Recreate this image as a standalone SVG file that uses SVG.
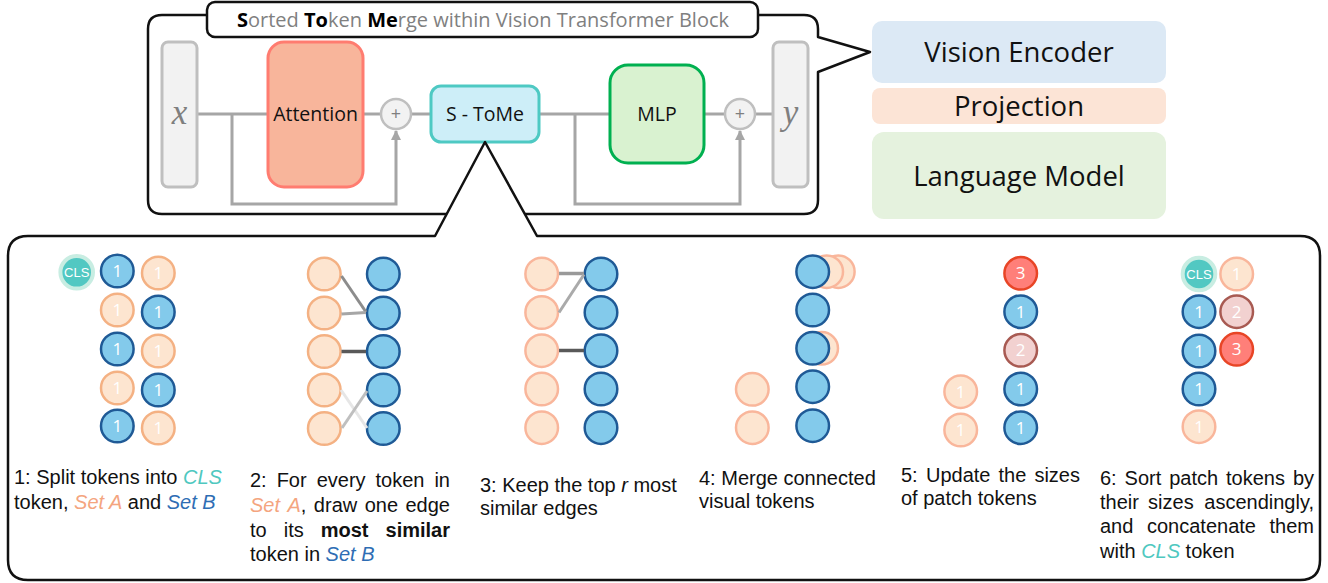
<svg xmlns="http://www.w3.org/2000/svg" width="1328" height="583" viewBox="0 0 1328 583">
<defs>
<marker id="arr" markerWidth="10" markerHeight="10" refX="9" refY="5" orient="auto" markerUnits="userSpaceOnUse"><path d="M0,0 L10,5 L0,10 z" fill="#a6a6a6"/></marker>
<style>
.outline{fill:#fff;stroke:#111;stroke-width:2.5;stroke-linejoin:round}
.wire{fill:none;stroke:#a6a6a6;stroke-width:3}
.io{fill:#f2f2f2;stroke:#bfbfbf;stroke-width:3}
.add{fill:#f2f2f2;stroke:#bfbfbf;stroke-width:2.5}
.math{font-family:"Liberation Serif","DejaVu Serif",serif;font-style:italic;font-size:35px;fill:#7f7f7f;text-anchor:middle}
.lbl{font-family:"Open Sans","Noto Sans",sans-serif;font-size:19.5px;fill:#111;text-anchor:middle}
.big{font-family:"Open Sans","Noto Sans",sans-serif;font-size:27.5px;fill:#111;text-anchor:middle}
.plus{font-family:"Open Sans","Noto Sans",sans-serif;font-size:18px;fill:#7f7f7f;text-anchor:middle}
.title{font-family:"Open Sans","Noto Sans",sans-serif;font-size:20px;fill:#808080;text-anchor:middle}
.bk{fill:#000;font-weight:bold}
.b{fill:#83caeb;stroke:#1f5a96;stroke-width:2.5}
.o{fill:#fde5d0;stroke:#f4b183;stroke-width:2.5}
.o2{fill:#fde5d0;stroke:#f9b69b;stroke-width:2.5}
.r{fill:#ff7f79;stroke:#e84526;stroke-width:2.5}
.p{fill:#f2d1d0;stroke:#a85a52;stroke-width:2.5}
.cls{fill:#52c8c2;stroke:#c8ede2;stroke-width:4}
.num{font-family:"Open Sans","Noto Sans",sans-serif;font-size:17px;fill:#fff;text-anchor:middle}
.clst{font-family:"Liberation Sans",Arial,sans-serif;font-size:13px;fill:#fff;text-anchor:middle}
.txt{font-family:"Liberation Sans",Arial,sans-serif;font-size:20px;fill:#111}
.end{text-anchor:end}
.cA{fill:#f4a57f;font-style:italic}
.cB{fill:#2e6db4;font-style:italic}
.cC{fill:#4fc8c0;font-style:italic}
.bo{font-weight:bold}
.it{font-style:italic}
</style>
</defs>
<rect width="1328" height="583" fill="#fff"/>

<g id="top-block">
<path class="outline" d="M162 15 H804 Q818 15 818 29 V37 L870 52 L818 72 V200 Q818 214 804 214 H162 Q148 214 148 200 V29 Q148 15 162 15 Z"/>
<rect class="outline" x="207" y="2" width="551" height="35" rx="8"/>
<text class="title" x="483" y="27"><tspan class="bk">S</tspan>orted <tspan class="bk">To</tspan>ken <tspan class="bk">Me</tspan>rge within Vision Transformer Block</text>
</g>

<g id="connectors">
<line class="wire" x1="197" y1="114" x2="268" y2="114"/>
<line class="wire" x1="363" y1="114" x2="381" y2="114"/>
<line class="wire" x1="411" y1="114" x2="431" y2="114"/>
<line class="wire" x1="539" y1="114" x2="610" y2="114"/>
<line class="wire" x1="704" y1="114" x2="725" y2="114"/>
<line class="wire" x1="755" y1="114" x2="773" y2="114"/>
<polyline class="wire" points="232,114 232,204 396,204 396,131" marker-end="url(#arr)"/>
<polyline class="wire" points="575,114 575,204 740,204 740,131" marker-end="url(#arr)"/>
</g>

<g id="input-x">
<rect class="io" x="162" y="42" width="35" height="145" rx="6"/>
<text class="math" x="179.5" y="124">x</text>
</g>
<g id="attention">
<rect x="268" y="42" width="95" height="145" rx="16" fill="#f8b59b" stroke="#ff7c70" stroke-width="3"/>
<text class="lbl" x="315.5" y="121">Attention</text>
</g>
<g id="add-1">
<circle class="add" cx="396" cy="114" r="15"/>
<text class="plus" x="396" y="120">+</text>
</g>
<g id="s-tome">
<rect x="431" y="86" width="108" height="56" rx="10" fill="#cdeef8" stroke="#4ec9c3" stroke-width="3"/>
<text class="lbl" x="485" y="121">S - ToMe</text>
</g>
<g id="mlp">
<rect x="610" y="65" width="94" height="98" rx="18" fill="#d9f2d0" stroke="#00b050" stroke-width="3"/>
<text class="lbl" x="657" y="121">MLP</text>
</g>
<g id="add-2">
<circle class="add" cx="740" cy="114" r="15"/>
<text class="plus" x="740" y="120">+</text>
</g>
<g id="output-y">
<rect class="io" x="773" y="42" width="35" height="145" rx="6"/>
<text class="math" x="790.5" y="124">y</text>
</g>

<g id="vision-encoder">
<rect x="872" y="21" width="294" height="62" rx="10" fill="#dce9f5"/>
<text class="big" x="1019" y="61.5">Vision Encoder</text>
</g>
<g id="projection">
<rect x="872" y="88" width="294" height="36" rx="8" fill="#fce4d6"/>
<text class="big" x="1019" y="115.5">Projection</text>
</g>
<g id="language-model">
<rect x="872" y="132" width="294" height="87" rx="12" fill="#e5f2de"/>
<text class="big" x="1019" y="185.5">Language Model</text>
</g>

<g id="detail-panel">
<path class="outline" d="M435 236 H28 Q8 236 8 256 V560 Q8 580 28 580 H1300 Q1320 580 1320 560 V256 Q1320 236 1300 236 H537 L485 142 Z"/>
</g>

<g id="step-1">
<circle class="cls" cx="76.7" cy="272.3" r="16.3"/><text class="clst" x="76.7" y="277">CLS</text>
<circle class="b" cx="117.3" cy="271" r="16.3"/><text class="num" x="117.3" y="277">1</text>
<circle class="o" cx="117.3" cy="310" r="16.3"/><text class="num" x="117.3" y="316">1</text>
<circle class="b" cx="117.3" cy="349" r="16.3"/><text class="num" x="117.3" y="355">1</text>
<circle class="o" cx="117.3" cy="388" r="16.3"/><text class="num" x="117.3" y="394">1</text>
<circle class="b" cx="117.3" cy="426" r="16.3"/><text class="num" x="117.3" y="432">1</text>
<circle class="o" cx="158.3" cy="273" r="16.3"/><text class="num" x="158.3" y="279">1</text>
<circle class="b" cx="158.3" cy="312" r="16.3"/><text class="num" x="158.3" y="318">1</text>
<circle class="o" cx="158.3" cy="351" r="16.3"/><text class="num" x="158.3" y="357">1</text>
<circle class="b" cx="158.3" cy="390" r="16.3"/><text class="num" x="158.3" y="396">1</text>
<circle class="o" cx="158.3" cy="428" r="16.3"/><text class="num" x="158.3" y="434">1</text>
<text class="txt" x="14" y="484">1: Split tokens into <tspan class="cC">CLS</tspan></text>
<text class="txt" x="14" y="509">token, <tspan class="cA">Set A</tspan> and <tspan class="cB">Set B</tspan></text>
</g>

<g id="step-2">
<circle class="o" cx="324.3" cy="274" r="16.3"/>
<circle class="o" cx="324.3" cy="313" r="16.3"/>
<circle class="o" cx="324.3" cy="351.5" r="16.3"/>
<circle class="o" cx="324.3" cy="390" r="16.3"/>
<circle class="o" cx="324.3" cy="428.5" r="16.3"/>
<circle class="b" cx="383.3" cy="274" r="16.3"/>
<circle class="b" cx="383.3" cy="313" r="16.3"/>
<circle class="b" cx="383.3" cy="351.5" r="16.3"/>
<circle class="b" cx="383.3" cy="390" r="16.3"/>
<circle class="b" cx="383.3" cy="428.5" r="16.3"/>
<line x1="341.5" y1="276" x2="366" y2="312" stroke="#8c8c8c" stroke-width="3"/>
<line x1="341.5" y1="314" x2="366" y2="312.5" stroke="#a6a6a6" stroke-width="3"/>
<line x1="341.5" y1="351.5" x2="366" y2="351.5" stroke="#595959" stroke-width="3.5"/>
<line x1="341" y1="390" x2="367" y2="428" stroke="#e6e6e6" stroke-width="3"/>
<line x1="342" y1="428" x2="367" y2="391" stroke="#bfbfbf" stroke-width="3"/>
<text class="txt" y="487"><tspan x="250">2:</tspan><tspan x="276.67">For</tspan><tspan x="316.65">every</tspan><tspan x="375.54">token</tspan></text>
<text class="txt end" x="450" y="487">in</text>
<text class="txt" y="512"><tspan x="250" class="cA">Set</tspan><tspan x="287.5" class="cA">A</tspan>,<tspan x="313.87">draw</tspan><tspan x="364.69">one</tspan></text>
<text class="txt end" x="450" y="512">edge</text>
<text class="txt" y="537"><tspan x="250">to</tspan><tspan x="283.7">its</tspan><tspan x="320.72" class="bo">most</tspan></text>
<text class="txt end bo" x="450" y="537">similar</text>
<text class="txt" x="250" y="561">token in <tspan class="cB">Set B</tspan></text>
</g>

<g id="step-3">
<circle class="o2" cx="541.7" cy="274" r="16.3"/>
<circle class="o2" cx="541.7" cy="312.5" r="16.3"/>
<circle class="o2" cx="541.7" cy="350.7" r="16.3"/>
<circle class="o2" cx="541.7" cy="389" r="16.3"/>
<circle class="o2" cx="541.7" cy="427.7" r="16.3"/>
<circle class="b" cx="601" cy="274" r="16.3"/>
<circle class="b" cx="601" cy="312.5" r="16.3"/>
<circle class="b" cx="601" cy="350.7" r="16.3"/>
<circle class="b" cx="601" cy="389" r="16.3"/>
<circle class="b" cx="601" cy="427.7" r="16.3"/>
<line x1="559" y1="273.5" x2="584" y2="273.5" stroke="#999" stroke-width="3.5"/>
<line x1="559" y1="312.5" x2="584" y2="274.5" stroke="#aaa" stroke-width="3"/>
<line x1="559" y1="350.5" x2="584" y2="350.5" stroke="#595959" stroke-width="3.5"/>
<text class="txt" x="480" y="492">3: Keep the top <tspan class="it">r</tspan> most</text>
<text class="txt" x="480" y="515">similar edges</text>
</g>

<g id="step-4">
<circle class="o2" cx="838.3" cy="271.7" r="16.3"/>
<circle class="o2" cx="826.7" cy="271.7" r="16.3"/>
<circle class="o2" cx="821.7" cy="348.3" r="16.3"/>
<circle class="b" cx="812.7" cy="271.7" r="16.3"/>
<circle class="b" cx="812.7" cy="310" r="16.3"/>
<circle class="b" cx="812.7" cy="348.3" r="16.3"/>
<circle class="b" cx="812.7" cy="386.7" r="16.3"/>
<circle class="b" cx="812.7" cy="425.7" r="16.3"/>
<circle class="o2" cx="752.3" cy="389.3" r="16.3"/>
<circle class="o2" cx="752.3" cy="427.7" r="16.3"/>
<text class="txt" x="699" y="485">4: Merge connected</text>
<text class="txt" x="699" y="508">visual tokens</text>
</g>

<g id="step-5">
<circle class="r" cx="1020.7" cy="273.3" r="16.3"/><text class="num" x="1020.7" y="279.3">3</text>
<circle class="b" cx="1020.7" cy="311.7" r="16.3"/><text class="num" x="1020.7" y="317.7">1</text>
<circle class="p" cx="1020.7" cy="350.3" r="16.3"/><text class="num" x="1020.7" y="356.3">2</text>
<circle class="b" cx="1020.7" cy="389" r="16.3"/><text class="num" x="1020.7" y="395">1</text>
<circle class="b" cx="1020.7" cy="427.7" r="16.3"/><text class="num" x="1020.7" y="433.7">1</text>
<circle class="o2" cx="960.7" cy="391.7" r="16.3"/><text class="num" x="960.7" y="397.7">1</text>
<circle class="o2" cx="960.7" cy="430" r="16.3"/><text class="num" x="960.7" y="436">1</text>
<text class="txt" y="482"><tspan x="901">5:</tspan><tspan x="926">Update</tspan><tspan x="998.5">the</tspan></text>
<text class="txt end" x="1080" y="482">sizes</text>
<text class="txt" x="901" y="505">of patch tokens</text>
</g>

<g id="step-6">
<circle class="cls" cx="1199" cy="274" r="16.3"/><text class="clst" x="1199" y="278.7">CLS</text>
<circle class="b" cx="1199" cy="311.7" r="16.3"/><text class="num" x="1199" y="317.7">1</text>
<circle class="b" cx="1199" cy="351" r="16.3"/><text class="num" x="1199" y="357">1</text>
<circle class="b" cx="1199" cy="389" r="16.3"/><text class="num" x="1199" y="395">1</text>
<circle class="o2" cx="1199" cy="426.7" r="16.3"/><text class="num" x="1199" y="432.7">1</text>
<circle class="o2" cx="1236.7" cy="274" r="16.3"/><text class="num" x="1236.7" y="280">1</text>
<circle class="p" cx="1236.7" cy="311.7" r="16.3"/><text class="num" x="1236.7" y="317.7">2</text>
<circle class="r" cx="1236.7" cy="349.3" r="16.3"/><text class="num" x="1236.7" y="355.3">3</text>
<text class="txt" y="485"><tspan x="1100">6:</tspan><tspan x="1124.6">Sort</tspan><tspan x="1169.2">patch</tspan><tspan x="1226.04">tokens</tspan></text>
<text class="txt end" x="1314" y="485">by</text>
<text class="txt" y="509"><tspan x="1100">their</tspan><tspan x="1148.09">sizes</tspan></text>
<text class="txt end" x="1314" y="509">ascendingly,</text>
<text class="txt" y="533"><tspan x="1100">and</tspan><tspan x="1146.97">concatenate</tspan></text>
<text class="txt end" x="1314" y="533">them</text>
<text class="txt" x="1100" y="558">with <tspan class="cC">CLS</tspan> token</text>
</g>
</svg>
